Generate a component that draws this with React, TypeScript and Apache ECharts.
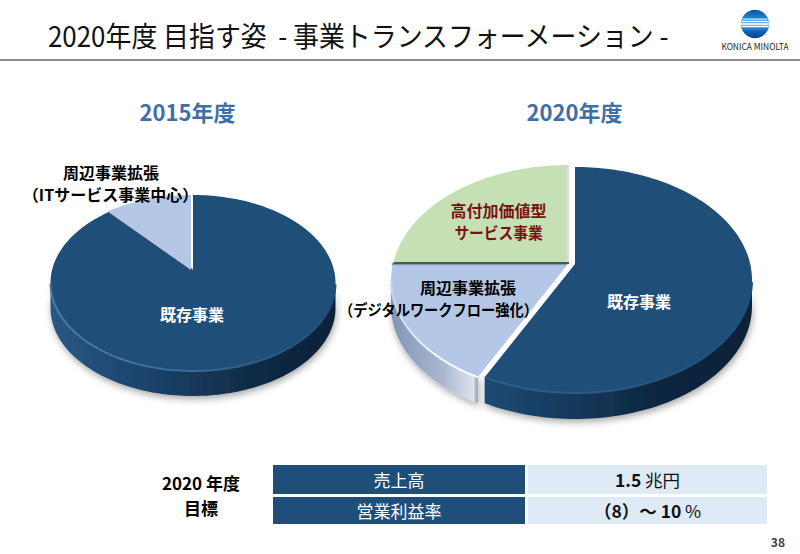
import React, { useEffect, useRef } from "react";
import * as echarts from "echarts";

const pageTitle = "2020年度 目指す姿  - 事業トランスフォーメーション -";
const years = ["2015年度", "2020年度"];
const slices2015 = ["既存事業", "周辺事業拡張"];
const notes2015 = ["", "（ITサービス事業中心）"];
const values2015 = [88.5, 11.5];
const slices2020 = ["既存事業", "周辺事業拡張", "高付加価値型"];
const notes2020 = ["", "（デジタルワークフロー強化）", "サービス事業"];
const values2020 = [57.5, 17.5, 25];
const targetTitle = ["2020 年度", "目標"];
const targetNames = ["売上高", "営業利益率"];
const targetValues = ["{b|1.5} {n|兆円}", "{b|（8）～ 10} {n|%}"];
const pageNumber = "38";
const brand = "KONICA MINOLTA";

const JP = '"Noto Sans CJK JP", "Noto Sans", sans-serif';
const NAVY = "#1f4e79";
const BLUE = "#b4c7e7";
const GREEN = "#c5e0b4";

const grad = (stops: [number, string][], vertical = false) =>
  new echarts.graphic.LinearGradient(0, 0, vertical ? 0 : 1, vertical ? 1 : 0,
    stops.map(([offset, color]) => ({ offset, color })));

type Style = { face: string; side?: any; rim?: any; dx: number; dy: number; startWall?: string; endWall?: string };
type Pie = { cx: number; cy: number; rx: number; ry: number; ax: number; ay: number; depth: number; values: number[]; looks: Style[] };

const pieA: Pie = {
  cx: 191, cy: 283, rx: 142.5, ry: 88, ax: 191, ay: 270, depth: 25, values: values2015,
  looks: [
    {
      face: NAVY, dx: 2, dy: 0, endWall: "#3b4a5c",
      side: grad([[0, "#2a5785"], [0.35, "#1a4369"], [0.7, "#102b47"], [1, "#0c2138"]]),
      rim: grad([[0, "#4a7dab"], [0.5, "#376a99"], [1, "#1f4e79"]]),
    },
    { face: BLUE, dx: 0, dy: 0 },
  ],
};
const pieB: Pie = {
  cx: 573, cy: 279, rx: 177, ry: 113, ax: 573, ay: 263, depth: 26, values: values2020,
  looks: [
    {
      face: NAVY, dx: 2, dy: 1,
      side: grad([[0, "#1d4a74"], [0.3, "#163a5e"], [0.65, "#0e2640"], [1, "#0c2036"]]),
      rim: grad([[0, "#2c5e8c"], [0.5, "#2a5a87"], [1, "#1f4e79"]]),
    },
    {
      face: BLUE, dx: -5, dy: 1, endWall: "#8a97af",
      side: grad([[0, "#8094b4"], [0.6, "#aab8cf"], [0.95, "#dce3ee"], [1, "#8e9ab0"]]),
      rim: grad([[0, "#c8d6ee"], [0.5, "#f4f7fc"], [1, "#ffffff"]]),
    },
    { face: GREEN, dx: -4, dy: -1, startWall: "#4b5b45", endWall: "#dedede" },
  ],
};

function edgePoint(p: Pie, turn: number, dx: number, dy: number) {
  const th = turn * Math.PI * 2;
  const ddx = Math.sin(th) * p.rx;
  const ddy = -Math.cos(th) * p.ry;
  const ox = (p.ax - p.cx) / p.rx, oy = (p.ay - p.cy) / p.ry;
  const ux = ddx / p.rx, uy = ddy / p.ry;
  const a = ux * ux + uy * uy;
  const b = 2 * (ox * ux + oy * uy);
  const c = ox * ox + oy * oy - 1;
  const t = (-b + Math.sqrt(b * b - 4 * a * c)) / (2 * a);
  return [p.ax + ddx * t + dx, p.ay + ddy * t + dy];
}

const pieRenderer = (p: Pie) => (params: any, api: any) => {
  const i = params.dataIndex;
  const total = p.values.reduce((s, v) => s + v, 0);
  const before = p.values.slice(0, i).reduce((s, v) => s + v, 0);
  const value = api.value(0);
  const t0 = before / total;
  const t1 = (before + value) / total;
  const look = p.looks[i];
  const arc: number[][] = [];
  const steps = Math.max(12, Math.round((t1 - t0) * 240));
  for (let k = 0; k <= steps; k++) arc.push(edgePoint(p, t0 + ((t1 - t0) * k) / steps, look.dx, look.dy));
  const apex = [p.ax + look.dx, p.ay + look.dy];
  const front = arc.filter((q) => q[1] >= p.cy + look.dy);
  const children: any[] = [];
  if (look.side && front.length > 1) {
    const lower = front.map((q) => [q[0], q[1] + p.depth]).reverse();
    children.push({
      type: "polygon",
      shape: { points: [...front, ...lower] },
      style: { fill: look.side, shadowBlur: 7, shadowOffsetY: 3, shadowOffsetX: 1, shadowColor: "rgba(0,0,0,0.35)" },
    });
  }
  children.push({ type: "polygon", shape: { points: [apex, ...arc] }, style: { fill: look.face } });
  if (look.rim && front.length > 1) {
    children.push({
      type: "polyline",
      shape: { points: front },
      style: { fill: "none", stroke: look.rim, lineWidth: 2 },
    });
  }
  if (look.startWall) {
    children.push({
      type: "line",
      shape: { x1: apex[0], y1: apex[1] + 1, x2: arc[0][0], y2: arc[0][1] + 1 },
      style: { stroke: look.startWall, lineWidth: 2 },
    });
  }
  if (look.endWall) {
    const e = arc[arc.length - 1];
    children.push({
      type: "line",
      shape: { x1: apex[0] - 1, y1: apex[1], x2: e[0] - 1, y2: e[1] },
      style: { stroke: look.endWall, lineWidth: 2.5 },
    });
  }
  return { type: "group", children };
};

const text = (t: string, x: number, y: number, o: any = {}) => ({
  type: "text",
  x,
  y,
  z: o.z ?? 10,
  scaleX: o.scaleX,
  style: {
    text: t,
    align: o.align ?? "center",
    verticalAlign: "middle",
    textAlign: o.align ?? "center",
    textVerticalAlign: "middle",
    fontFamily: JP,
    fontSize: o.size ?? 16,
    fontWeight: o.weight ?? "normal",
    fill: o.fill ?? "#000",
    rich: o.rich,
    shadowBlur: o.blur,
    shadowColor: o.shadow,
    shadowOffsetX: o.blur ? 1 : undefined,
    shadowOffsetY: o.blur ? 1 : undefined,
  },
});

const richCell = {
  b: { fontFamily: JP, fontSize: 17.5, fontWeight: "bold", fill: "#111", color: "#111" },
  n: { fontFamily: JP, fontSize: 17.5, fontWeight: "normal", fill: "#111", color: "#111" },
};

const rows = [
  { y: 465, h: 29 },
  { y: 497, h: 27 },
];

const stripes = [
  { y: 18.6, w: 25, h: 1 },
  { y: 20.8, w: 27, h: 1.3 },
  { y: 23.2, w: 28, h: 1.6 },
  { y: 25.8, w: 27, h: 1.4 },
];

const halo = { weight: "bold", blur: 2, shadow: "rgba(255,255,255,0.9)" };
const dark = { weight: "bold", fill: "#fff", blur: 2, shadow: "rgba(0,0,0,0.6)" };
const maroon = { weight: "bold", fill: "#7a1212", blur: 2, shadow: "rgba(255,255,255,0.7)" };

export default function App() {
  const ref = useRef<HTMLDivElement>(null);
  useEffect(() => {
    const chart = echarts.init(ref.current!, undefined, { renderer: "svg" });
    const graphic: any[] = [
      text(pageTitle, 48, 35, { align: "left", size: 28, scaleX: 0.925, fill: "#111" }),
      { type: "rect", shape: { x: 0, y: 59, width: 800, height: 2 }, style: { fill: "#8c8c8c" } },
      {
        type: "circle",
        shape: { cx: 755, cy: 24, r: 14.2 },
        style: { fill: grad([[0, "#0a4fa8"], [0.3, "#1b86d8"], [0.5, "#66b5ea"], [0.75, "#0e66bd"], [1, "#063f96"]], true) },
      },
      ...stripes.map((s) => ({
        type: "rect",
        shape: { x: 755 - s.w / 2, y: s.y, width: s.w, height: s.h },
        style: { fill: "#ffffff" },
      })),
      text(brand, 755, 46, { size: 8.6, fill: "#222", scaleX: 0.98 }),
      text(years[0], 187.5, 111, { size: 22, weight: "bold", fill: "#3f6fa9" }),
      text(years[1], 574.5, 111, { size: 22, weight: "bold", fill: "#3f6fa9" }),
      text(slices2015[1], 111, 172, { ...halo, size: 16 }),
      text(notes2015[1], 110.5, 194, { ...halo, size: 16 }),
      text(slices2015[0], 192, 314, { ...dark, size: 16 }),
      text(slices2020[0], 639, 301, { ...dark, size: 16 }),
      text(slices2020[1], 468, 287, { ...halo, size: 16 }),
      text(notes2020[1], 438.5, 309, { ...halo, size: 15.5, scaleX: 0.92 }),
      text(slices2020[2], 498.5, 210, { ...maroon, size: 16 }),
      text(notes2020[2], 498.5, 232, { ...maroon, size: 16, scaleX: 0.92 }),
      text(targetTitle[0], 201, 482, { weight: "bold", size: 17 }),
      text(targetTitle[1], 201, 507, { weight: "bold", size: 17 }),
      ...rows.flatMap((r, i) => [
        { type: "rect", shape: { x: 273, y: r.y, width: 252, height: r.h }, style: { fill: NAVY } },
        { type: "rect", shape: { x: 528, y: r.y, width: 239, height: r.h }, style: { fill: "#deeaf6" } },
        text(targetNames[i], 399, r.y + r.h / 2, { size: 17, fill: "#fff" }),
        text(targetValues[i], 647.5, r.y + r.h / 2, { rich: richCell }),
      ]),
      text(pageNumber, 785, 541, { align: "right", size: 12, weight: "bold", fill: "#404040" }),
    ];
    chart.setOption({
      animation: false,
      backgroundColor: "#ffffff",
      graphic,
      series: [
        { type: "custom", name: years[0], coordinateSystem: "none", renderItem: pieRenderer(pieA), data: values2015.map((v) => [v]), silent: true },
        { type: "custom", name: years[1], coordinateSystem: "none", renderItem: pieRenderer(pieB), data: values2020.map((v) => [v]), silent: true },
      ],
    });
    return () => chart.dispose();
  }, []);
  return <div ref={ref} style={{ position: "absolute", left: 0, top: 0, width: 800, height: 554 }} />;
}
